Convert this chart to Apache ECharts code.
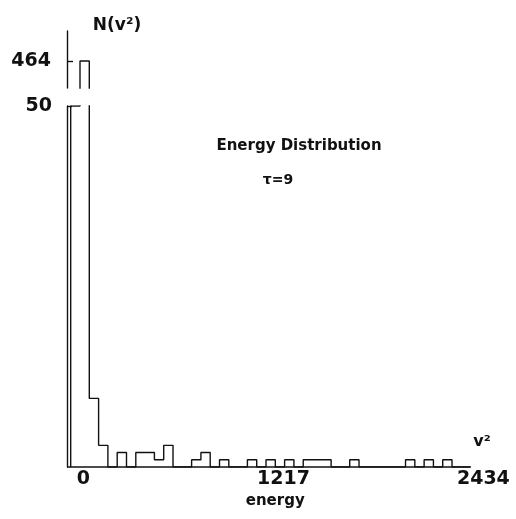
<!DOCTYPE html>
<html>
<head>
<meta charset="utf-8">
<script src="https://cdn.jsdelivr.net/npm/echarts@6/dist/echarts.min.js"></script>
<style>html,body{margin:0;padding:0;background:#fff;}#c{width:516px;height:519px;}</style>
</head>
<body>
<div id="c"></div>
<script>
// ---- data ----
const binCounts = [50, 464, 9.5, 3, 0, 2, 0, 2, 2, 1, 3, 0, 0, 1, 2, 0, 1, 0, 0, 1, 0, 1, 0, 1, 0, 1, 1, 1, 0, 0, 1, 0, 0, 0, 0, 0, 1, 0, 1, 0, 1, 0, 0];
const binStart = -77.5;
const binWidth = 56.6;
const xTickValues = [0, 1217, 2434];
const xAxisMin = -100;
const xAxisMax = 2434;
const yTopTicks = [464];
const yBottomTicks = [50];
const yTopRange = [440, 490.7];
const yBottomRange = [0, 50];

// ---- build step outline of histogram ----
const stepData = [[binStart, 0]];
binCounts.forEach((c, i) => stepData.push([binStart + i * binWidth, c]));
const binEnd = binStart + binCounts.length * binWidth;
stepData.push([binEnd, 0]);
const baseData = [[xAxisMin, 0], [binEnd, 0]];

const INK = '#111';
const FONT = 'DejaVu Sans';
const chart = echarts.init(document.getElementById('c'), null, {renderer: 'canvas'});

const gridLeft = 67, gridRight = 32.6;
const plain = v => String(v);
const xAxisCommon = {type: 'value', min: xAxisMin, max: xAxisMax, splitLine: {show: false}, axisTick: {show: false}};

chart.setOption({
  animation: false,
  backgroundColor: '#fff',
  grid: [
    {left: gridLeft, right: gridRight, top: 31, height: 57},
    {left: gridLeft, right: gridRight, top: 106, height: 361}
  ],
  xAxis: [
    Object.assign({gridIndex: 0, show: false}, xAxisCommon),
    Object.assign({gridIndex: 1}, xAxisCommon, {
      axisLine: {show: false, onZero: false},
      axisLabel: {customValues: xTickValues, formatter: plain, color: INK, fontFamily: FONT, fontWeight: 'bold', fontSize: 19, margin: 3},
      name: 'energy', nameLocation: 'middle', nameGap: 27,
      nameTextStyle: {color: INK, fontFamily: FONT, fontWeight: 'bold', fontSize: 15}
    })
  ],
  yAxis: [
    {gridIndex: 0, type: 'value', min: yTopRange[0], max: yTopRange[1], splitLine: {show: false},
     axisLine: {show: true, onZero: false, lineStyle: {color: INK, width: 1.4}},
     axisTick: {show: true, inside: true, length: 6, customValues: yTopTicks, lineStyle: {color: INK, width: 1.4}},
     axisLabel: {customValues: yTopTicks, formatter: plain, color: INK, fontFamily: FONT, fontWeight: 'bold', fontSize: 19, margin: 16}},
    {gridIndex: 1, type: 'value', min: yBottomRange[0], max: yBottomRange[1], splitLine: {show: false},
     axisLine: {show: true, onZero: false, lineStyle: {color: INK, width: 1.4}},
     axisTick: {show: true, inside: true, length: 5, customValues: yBottomTicks, lineStyle: {color: INK, width: 1.4}},
     axisLabel: {customValues: yBottomTicks, formatter: plain, color: INK, fontFamily: FONT, fontWeight: 'bold', fontSize: 19, margin: 15}}
  ],
  series: [
    {type: 'line', name: 'upper', xAxisIndex: 0, yAxisIndex: 0, data: stepData, step: 'end', symbol: 'none', clip: true,
     lineStyle: {color: INK, width: 1.4}},
    {type: 'line', name: 'lower', xAxisIndex: 1, yAxisIndex: 1, data: stepData, step: 'end', symbol: 'none', clip: true,
     lineStyle: {color: INK, width: 1.4}},
    {type: 'line', name: 'baseline', xAxisIndex: 1, yAxisIndex: 1, data: baseData, symbol: 'none', clip: false,
     lineStyle: {color: INK, width: 1.4}}
  ],
  graphic: [
    {type: 'text', x: 117, y: 26, style: {text: 'N(v²)', fill: INK, font: 'bold 17px "DejaVu Sans"', textAlign: 'center', textVerticalAlign: 'middle'}},
    {type: 'text', x: 299, y: 146, style: {text: 'Energy Distribution', fill: INK, font: 'bold 15px "DejaVu Sans"', textAlign: 'center', textVerticalAlign: 'middle'}},
    {type: 'text', x: 278, y: 180, style: {text: 'τ=9', fill: INK, font: 'bold 14px "DejaVu Sans"', textAlign: 'center', textVerticalAlign: 'middle'}},
    {type: 'text', x: 482, y: 442, style: {text: 'v²', fill: INK, font: 'bold 16px "DejaVu Sans"', textAlign: 'center', textVerticalAlign: 'middle'}}
  ]
});
</script>
</body>
</html>
